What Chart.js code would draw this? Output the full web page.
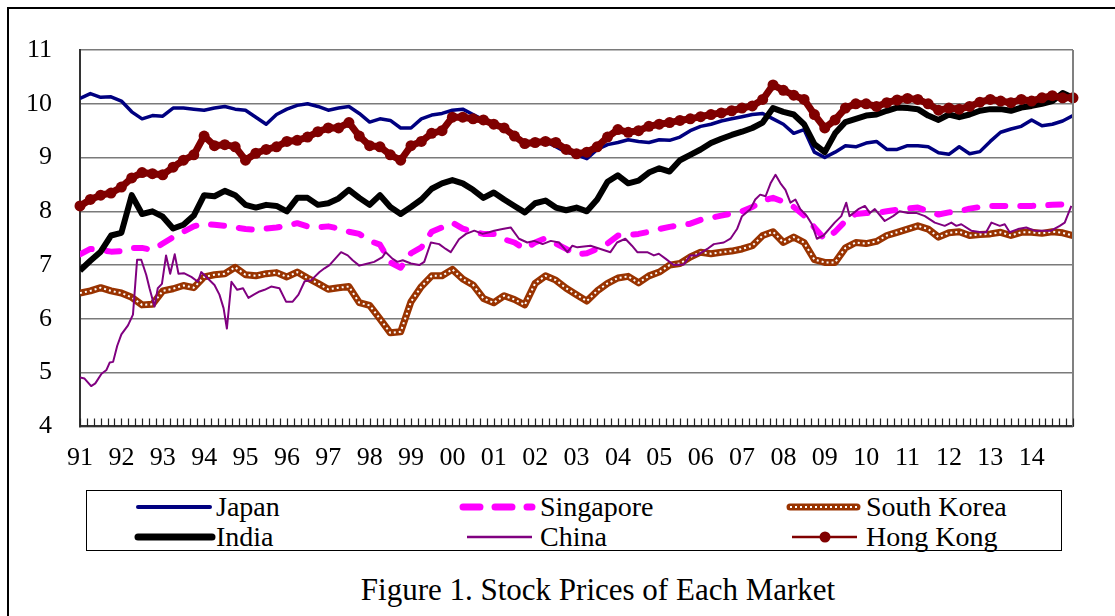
<!DOCTYPE html>
<html lang="en">
<head>
<meta charset="UTF-8">
<title>Figure 1. Stock Prices of Each Market</title>
<script src="https://cdn.jsdelivr.net/npm/chart.js"></script>
<style>
  body { margin: 0; background: #fff; width: 1115px; height: 616px; overflow: hidden; position: relative;
         font-family: "Liberation Serif", "Times New Roman", serif; color: #000; }
  .frame { position: absolute; left: 7px; top: 7px; width: 1200px; height: 700px;
           border-top: 2px solid #000; border-left: 2px solid #000; }
  #wrap { position: absolute; left: 0; top: 0; width: 1115px; height: 470px; }
  .legend { position: absolute; left: 86px; top: 490px; width: 974px; height: 59px; border: 1.5px solid #000; }
  .lg-text { position: absolute; font-size: 28px; line-height: 30px; white-space: nowrap; }
  .lg-line { position: absolute; width: 90px; height: 20px; }
  .title { position: absolute; left: 0; top: 572px; width: 1196px; text-align: center; font-size: 31px; line-height: 36px; }
</style>
</head>
<body>
<div class="frame"></div>
<div id="wrap"><canvas id="chart"></canvas></div>

<div class="legend"></div>
<svg class="lg-line" style="left:130px;top:497px"><line x1="8" y1="10" x2="80" y2="10" stroke="#000080" stroke-width="4" stroke-linecap="round"/></svg>
<span class="lg-text" style="left:216px;top:492px">Japan</span>
<svg class="lg-line" style="left:455px;top:497px"><line x1="8" y1="10" x2="77" y2="10" stroke="#ff00ff" stroke-width="7" stroke-linecap="round" stroke-dasharray="17 15"/></svg>
<span class="lg-text" style="left:540px;top:492px">Singapore</span>
<svg class="lg-line" style="left:782px;top:497px"><line x1="8" y1="10" x2="75" y2="10" stroke="#993300" stroke-width="7" stroke-linecap="round"/><line x1="8" y1="10" x2="75" y2="10" stroke="#fff" stroke-width="2" stroke-dasharray="2 3"/></svg>
<span class="lg-text" style="left:866px;top:492px">South Korea</span>
<svg class="lg-line" style="left:130px;top:527px"><line x1="8" y1="10" x2="82" y2="10" stroke="#000" stroke-width="7" stroke-linecap="round"/></svg>
<span class="lg-text" style="left:216px;top:522px">India</span>
<svg class="lg-line" style="left:455px;top:527px"><line x1="12" y1="10" x2="77" y2="10" stroke="#800080" stroke-width="2.5"/></svg>
<span class="lg-text" style="left:540px;top:522px">China</span>
<svg class="lg-line" style="left:782px;top:527px"><line x1="10" y1="10" x2="75" y2="10" stroke="#800000" stroke-width="2.5"/><circle cx="43" cy="10" r="5.5" fill="#800000"/></svg>
<span class="lg-text" style="left:866px;top:522px">Hong Kong</span>

<div class="title">Figure 1. Stock Prices of Each Market</div>

<script>
// quarterly observations, 1991 Q1 .. 2015 Q1 (97 points)
const japan = [
  10.10, 10.19, 10.12, 10.13,  10.05, 9.85, 9.72, 9.78,  9.77, 9.92, 9.92, 9.90,
  9.88, 9.92, 9.95, 9.90,  9.88, 9.75, 9.62, 9.80,  9.90, 9.97, 10.00, 9.95,
  9.88, 9.92, 9.95, 9.82,  9.66, 9.72, 9.69, 9.55,  9.55, 9.72, 9.79, 9.82,
  9.88, 9.90, 9.80, 9.70,  9.60, 9.55, 9.45, 9.25,  9.25, 9.30, 9.20, 9.10,
  9.05, 8.98, 9.15, 9.24,  9.28, 9.33, 9.30, 9.28,  9.33, 9.32, 9.38, 9.50,
  9.58, 9.62, 9.68, 9.72,  9.76, 9.80, 9.82, 9.72,  9.62, 9.45, 9.52, 9.10,
  9.00, 9.10, 9.22, 9.20,  9.27, 9.30, 9.15, 9.15,  9.22, 9.22, 9.20, 9.09,
  9.06, 9.20, 9.07, 9.11,  9.30, 9.47, 9.53, 9.58,  9.70, 9.59, 9.62, 9.68,
  9.78
];
const singapore = [
  7.20, 7.30, 7.28, 7.25,  7.26, 7.32, 7.32, 7.28,  7.40, 7.52, 7.62, 7.72,
  7.77, 7.75, 7.73, 7.70,  7.67, 7.66, 7.68, 7.70,  7.73, 7.78, 7.72, 7.70,
  7.72, 7.68, 7.62, 7.58,  7.45, 7.38, 7.05, 6.95,  7.22, 7.33, 7.62, 7.70,
  7.79, 7.68, 7.62, 7.58,  7.58, 7.48, 7.42, 7.30,  7.42, 7.50, 7.40, 7.30,
  7.20, 7.22, 7.30, 7.40,  7.55, 7.56, 7.58, 7.62,  7.67, 7.71, 7.74, 7.77,
  7.84, 7.88, 7.92, 7.96,  8.00, 8.08, 8.20, 8.25,  8.18, 8.08, 7.92, 7.70,
  7.48, 7.62, 7.82, 7.95,  7.97, 7.97, 8.00, 8.03,  8.05, 8.07, 8.00, 7.94,
  7.98, 8.00, 8.05, 8.08,  8.10, 8.10, 8.10, 8.10,  8.10, 8.11, 8.12, 8.13,
  8.13
];
const southKorea = [
  6.48, 6.52, 6.58, 6.52,  6.48, 6.40, 6.26, 6.27,  6.52, 6.56, 6.62, 6.58,
  6.78, 6.82, 6.84, 6.96,  6.82, 6.80, 6.84, 6.86,  6.78, 6.87, 6.76, 6.66,
  6.55, 6.58, 6.60, 6.30,  6.25, 6.00, 5.74, 5.76,  6.32, 6.60, 6.80, 6.80,
  6.92, 6.74, 6.63, 6.38,  6.30, 6.43, 6.36, 6.26,  6.66, 6.80, 6.72, 6.57,
  6.45, 6.33, 6.52, 6.66,  6.76, 6.79, 6.67, 6.80,  6.87, 7.00, 7.03, 7.15,
  7.24, 7.21, 7.24, 7.26,  7.30, 7.36, 7.55, 7.62,  7.42, 7.52, 7.42, 7.10,
  7.05, 7.05, 7.32, 7.42,  7.40, 7.44, 7.55, 7.61,  7.67, 7.73, 7.67, 7.52,
  7.60, 7.62, 7.55, 7.57,  7.58, 7.61, 7.55, 7.61,  7.61, 7.59, 7.62, 7.60,
  7.55
];
const india = [
  6.90, 7.08, 7.25, 7.55,  7.60, 8.30, 7.95, 8.00,  7.90, 7.68, 7.75, 7.92,
  8.30, 8.28, 8.38, 8.30,  8.12, 8.07, 8.12, 8.10,  8.00, 8.25, 8.25, 8.12,
  8.15, 8.24, 8.40, 8.25,  8.12, 8.30, 8.08, 7.95,  8.08, 8.22, 8.42, 8.52,
  8.58, 8.52, 8.40, 8.25,  8.35, 8.22, 8.10, 7.98,  8.15, 8.20, 8.07, 8.02,
  8.07, 8.00, 8.22, 8.55,  8.67, 8.52, 8.57, 8.72,  8.80, 8.74, 8.95, 9.05,
  9.15, 9.27, 9.35, 9.42,  9.48, 9.55, 9.65, 9.92,  9.85, 9.80, 9.62, 9.25,
  9.10, 9.45, 9.66, 9.72,  9.78, 9.80, 9.87, 9.93,  9.92, 9.90, 9.78, 9.70,
  9.80, 9.75, 9.80, 9.87,  9.90, 9.90, 9.87, 9.93,  9.96, 10.00, 10.05, 10.20,
  10.11
];
const hongKong = [
  8.10, 8.22, 8.30, 8.34,  8.45, 8.62, 8.72, 8.70,  8.68, 8.82, 8.95, 9.05,
  9.40, 9.22, 9.24, 9.20,  8.95, 9.08, 9.15, 9.20,  9.30, 9.32, 9.38, 9.48,
  9.55, 9.55, 9.65, 9.40,  9.22, 9.20, 9.05, 8.95,  9.22, 9.30, 9.45, 9.50,
  9.75, 9.75, 9.72, 9.70,  9.62, 9.55, 9.40, 9.26,  9.28, 9.30, 9.28, 9.15,
  9.07, 9.10, 9.20, 9.38,  9.52, 9.47, 9.50, 9.58,  9.62, 9.65, 9.69, 9.72,
  9.76, 9.80, 9.83, 9.87,  9.92, 9.96, 10.08, 10.35,  10.25, 10.16, 10.08, 9.80,
  9.55, 9.70, 9.92, 10.00,  10.00, 9.95, 10.02, 10.07,  10.10, 10.08, 10.00, 9.88,
  9.92, 9.90, 9.95, 10.03,  10.08, 10.05, 10.02, 10.08,  10.05, 10.11, 10.15, 10.11,
  10.11
];

// China is spiky, so it keeps its own turning points (year, value)
const chinaX = [
  1991.00, 1991.11, 1991.27, 1991.37, 1991.52, 1991.64, 1991.72, 1991.80, 1991.90, 1992.00,
  1992.16, 1992.28, 1992.38, 1992.48, 1992.60, 1992.68, 1992.80, 1992.88, 1992.98, 1993.08,
  1993.18, 1993.29, 1993.38, 1993.51, 1993.69, 1993.85, 1993.93, 1994.09, 1994.25, 1994.37,
  1994.47, 1994.55, 1994.66, 1994.80, 1994.94, 1995.07, 1995.20, 1995.34, 1995.46, 1995.62,
  1995.82, 1995.98, 1996.14, 1996.28, 1996.43, 1996.59, 1996.79, 1996.91, 1997.03, 1997.31,
  1997.47, 1997.59, 1997.75, 1997.91, 1998.11, 1998.31, 1998.39, 1998.55, 1998.67, 1998.80,
  1999.00, 1999.20, 1999.32, 1999.48, 1999.68, 1999.84, 1999.96, 2000.16, 2000.33, 2000.53,
  2000.73, 2000.89, 2001.01, 2001.21, 2001.41, 2001.61, 2001.81, 2001.98, 2002.18, 2002.38,
  2002.58, 2002.78, 2002.90, 2003.02, 2003.34, 2003.58, 2003.82, 2003.98, 2004.18, 2004.34,
  2004.47, 2004.71, 2004.87, 2004.99, 2005.15, 2005.35, 2005.59, 2005.75, 2005.91, 2006.16,
  2006.32, 2006.56, 2006.72, 2006.88, 2007.00, 2007.20, 2007.32, 2007.44, 2007.57, 2007.69,
  2007.81, 2007.93, 2008.05, 2008.17, 2008.29, 2008.41, 2008.57, 2008.69, 2008.81, 2008.97,
  2009.24, 2009.40, 2009.52, 2009.60, 2009.81, 2009.97, 2010.09, 2010.21, 2010.45, 2010.65,
  2010.81, 2011.01, 2011.21, 2011.42, 2011.66, 2011.90, 2012.06, 2012.18, 2012.30, 2012.54,
  2012.78, 2012.90, 2013.03, 2013.23, 2013.35, 2013.47, 2013.67, 2013.87, 2014.07, 2014.31,
  2014.47, 2014.68, 2014.80, 2014.96
];
const chinaY = [
  4.91, 4.89, 4.75, 4.80, 4.98, 5.05, 5.19, 5.20, 5.50, 5.71,
  5.88, 6.08, 7.10, 7.10, 6.82, 6.57, 6.23, 6.57, 6.65, 7.18,
  6.84, 7.20, 6.84, 6.85, 6.78, 6.69, 6.87, 6.75, 6.63, 6.45,
  6.20, 5.82, 6.69, 6.54, 6.57, 6.39, 6.45, 6.51, 6.54, 6.60,
  6.57, 6.32, 6.32, 6.45, 6.70, 6.72, 6.87, 6.94, 7.00, 7.24,
  7.18, 7.09, 6.99, 7.02, 7.06, 7.15, 7.24, 7.12, 7.06, 7.09,
  7.03, 7.00, 7.06, 7.42, 7.39, 7.30, 7.24, 7.48, 7.58, 7.64,
  7.58, 7.61, 7.64, 7.67, 7.70, 7.49, 7.42, 7.45, 7.39, 7.45,
  7.42, 7.24, 7.36, 7.33, 7.36, 7.30, 7.24, 7.42, 7.49, 7.36,
  7.24, 7.24, 7.18, 7.21, 7.12, 7.00, 7.01, 7.18, 7.18, 7.30,
  7.39, 7.42, 7.49, 7.67, 7.91, 8.04, 8.22, 8.31, 8.28, 8.52,
  8.68, 8.52, 8.40, 8.16, 8.22, 8.04, 7.91, 7.76, 7.49, 7.55,
  7.79, 7.91, 8.16, 7.91, 8.04, 8.10, 7.97, 8.04, 7.82, 7.91,
  8.00, 7.97, 7.97, 7.91, 7.79, 7.73, 7.79, 7.73, 7.76, 7.64,
  7.61, 7.61, 7.79, 7.73, 7.76, 7.61, 7.67, 7.70, 7.64, 7.64,
  7.64, 7.73, 7.79, 8.10
];

const yTicks = [4, 5, 6, 7, 8, 9, 10, 11];
const firstYear = 1991, lastYear = 2015;

function quarterly(values) {
  return values.map((v, i) => ({ x: firstYear + i / 4, y: v }));
}
function pairs(xs, ys) {
  return xs.map((x, i) => ({ x: x, y: ys[i] }));
}

const frameTicks = {
  id: 'frameTicks',
  afterDraw(chart) {
    const { ctx, chartArea: a, scales: { x } } = chart;
    ctx.save();
    ctx.strokeStyle = '#808080';
    ctx.lineWidth = 2;
    ctx.beginPath();
    ctx.moveTo(a.right, a.top);
    ctx.lineTo(a.right, a.bottom);
    ctx.stroke();
    // small inward tick marks every two months
    ctx.strokeStyle = '#222';
    ctx.lineWidth = 1.2;
    ctx.beginPath();
    for (let m = 0; m <= 288; m += 2) {
      const px = Math.round(x.getPixelForValue(firstYear + m / 12)) + 0.5;
      ctx.moveTo(px, a.bottom);
      ctx.lineTo(px, a.bottom - 8);
    }
    ctx.stroke();
    ctx.restore();
  }
};

const serif = '"Liberation Serif", "Times New Roman", serif';

new Chart(document.getElementById('chart'), {
  type: 'line',
  data: {
    datasets: [
      { label: 'Japan', data: quarterly(japan), borderColor: '#000080', borderWidth: 3.5, order: 6 },
      { label: 'Singapore', data: quarterly(singapore), borderColor: '#ff00ff', borderWidth: 6,
        borderDash: [13, 15], borderCapStyle: 'round', order: 5 },
      { label: 'South Korea', data: quarterly(southKorea), borderColor: '#993300', borderWidth: 7, order: 4 },
      { label: 'South Korea dots', data: quarterly(southKorea), borderColor: '#ffffff', borderWidth: 2,
        borderDash: [2, 3], order: 3.5 },
      { label: 'India', data: quarterly(india), borderColor: '#000000', borderWidth: 6, order: 3 },
      { label: 'China', data: pairs(chinaX, chinaY), borderColor: '#800080', borderWidth: 2, order: 2 },
      { label: 'Hong Kong', data: quarterly(hongKong), borderColor: '#800000', borderWidth: 7,
        pointRadius: 5.5, pointBackgroundColor: '#800000', pointBorderWidth: 0, clip: false, order: 1 }
    ]
  },
  options: {
    responsive: true,
    maintainAspectRatio: false,
    animation: false,
    layout: { padding: { left: 0, right: 42, top: 50, bottom: 0 } },
    elements: {
      line: { tension: 0, borderJoinStyle: 'round', fill: false },
      point: { radius: 0, hoverRadius: 0 }
    },
    plugins: { legend: { display: false }, tooltip: { enabled: false } },
    scales: {
      x: {
        type: 'linear',
        min: firstYear,
        max: lastYear,
        afterFit(scale) { scale.height = 40; },
        grid: { display: false },
        border: { display: true, color: '#333', width: 2 },
        ticks: {
          stepSize: 1,
          maxTicksLimit: 30,
          autoSkip: false,
          maxRotation: 0,
          minRotation: 0,
          padding: 8,
          color: '#000',
          font: { family: serif, size: 26 },
          callback: v => (v < lastYear ? String(v).slice(-2) : '')
        }
      },
      y: {
        min: yTicks[0],
        max: yTicks[yTicks.length - 1],
        afterFit(scale) { scale.width = 80; },
        afterBuildTicks(scale) { scale.ticks = yTicks.map(v => ({ value: v })); },
        grid: { color: '#7a7a7a', lineWidth: 1.5, drawTicks: false },
        border: { display: true, color: '#333', width: 2 },
        ticks: {
          padding: 28,
          color: '#000',
          font: { family: serif, size: 26 }
        }
      }
    }
  },
  plugins: [frameTicks]
});
</script>
</body>
</html>
